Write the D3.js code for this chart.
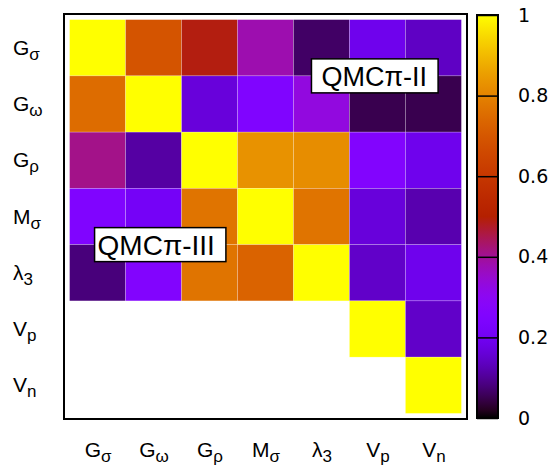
<!DOCTYPE html>
<html>
<head>
<meta charset="utf-8">
<script src="https://cdn.jsdelivr.net/npm/d3@7"></script>
<style>
  body { margin: 0; background: #fff; }
  svg { display: block; }
</style>
</head>
<body>
<div id="chart"></div>
<script>
// parameter names (main letter + subscript)
var labelMain = ["G", "G", "G", "M", "λ", "V", "V"]
var labelSub = ["σ", "ω", "ρ", "σ", "3", "p", "n"]

// correlation matrix, rows top to bottom, null = no cell
var row0 = [1, 0.69, 0.49, 0.38, 0.065, 0.19, 0.14]
var row1 = [0.75, 1, 0.165, 0.25, 0.33, 0.05, 0.05]
var row2 = [0.41, 0.11, 1, 0.83, 0.82, 0.26, 0.19]
var row3 = [0.25, 0.21, 0.77, 1, 0.77, 0.165, 0.12]
var row4 = [0.08, 0.26, 0.77, 0.73, 1, 0.145, 0.19]
var row5 = [null, null, null, null, null, 1, 0.145]
var row6 = [null, null, null, null, null, null, 1]
var rows = [row0, row1, row2, row3, row4, row5, row6]

var cbTicks = [0, 0.2, 0.4, 0.6, 0.8, 1]

var notes = [
  { text: "QMCπ-II", x: 4, y: 0.5, size: 27, padL: 10, padR: 11 },
  { text: "QMCπ-III", x: 0, y: 3.5, size: 28, padL: 3, padR: 11 }
]

var width = 551, height = 471

// gnuplot default palette (rgbformulae 7,5,15)
function pm3d(t) {
  var r = Math.sqrt(t), g = t * t * t, b = Math.max(0, Math.sin(2 * Math.PI * t))
  return d3.rgb(r * 255, g * 255, b * 255).toString()
}
var color = d3.scaleSequential(pm3d).domain([0, 1])

var svg = d3.select("#chart")
  .append("svg")
  .attr("width", width)
  .attr("height", height)

var x = d3.scaleLinear().domain([-0.6, 6.6]).range([64, 467])
var y = d3.scaleLinear().domain([-0.6, 6.6]).range([14, 419])

var cells = []
rows.forEach(function (r, i) {
  r.forEach(function (v, j) {
    if (v !== null) cells.push({ row: i, col: j, value: v })
  })
})

svg.append("g")
  .selectAll("rect")
  .data(cells)
  .enter()
  .append("rect")
  .attr("x", function (d) { return x(d.col - 0.5) })
  .attr("y", function (d) { return y(d.row - 0.5) })
  .attr("width", function (d) { return x(d.col + 0.5) - x(d.col - 0.5) })
  .attr("height", function (d) { return y(d.row + 0.5) - y(d.row - 0.5) })
  .attr("fill", function (d) { return color(d.value) })
  .attr("stroke", "#fff")
  .attr("stroke-opacity", 0.35)
  .attr("stroke-width", 0.6)

// frame
svg.append("rect")
  .attr("x", x(-0.6))
  .attr("y", y(-0.6))
  .attr("width", x(6.6) - x(-0.6))
  .attr("height", y(6.6) - y(-0.6))
  .attr("fill", "none")
  .attr("stroke", "#000")
  .attr("stroke-width", 2)

// tick labels with subscripts
function subLabel(sel, i) {
  sel.text(null)
  sel.append("tspan").text(labelMain[i])
  sel.append("tspan")
    .attr("font-size", 17)
    .attr("dy", 5)
    .text(labelSub[i])
}

var idx = d3.range(7)

var xAxis = svg.append("g")
  .attr("transform", "translate(0,457)")
  .call(d3.axisBottom(x).tickValues(idx).tickSize(0).tickPadding(0).tickFormat(function () { return "" }))
xAxis.select(".domain").remove()
xAxis.selectAll(".tick text")
  .attr("y", 0)
  .attr("dy", 0)
  .attr("fill", "#000")
  .attr("font-family", "Liberation Sans, Arial, sans-serif")
  .attr("font-size", 21)
  .attr("text-anchor", "middle")
  .each(function (d) { subLabel(d3.select(this), d) })

var yAxis = svg.append("g")
  .call(d3.axisLeft(y).tickValues(idx).tickSize(0).tickFormat(function () { return "" }))
yAxis.select(".domain").remove()
yAxis.selectAll(".tick text")
  .attr("x", 13)
  .attr("dy", 6.5)
  .attr("fill", "#000")
  .attr("font-family", "Liberation Sans, Arial, sans-serif")
  .attr("font-size", 21)
  .attr("text-anchor", "start")
  .each(function (d) { subLabel(d3.select(this), d) })

// boxed labels
notes.forEach(function (n) {
  var g = svg.append("g")
  var rect = g.append("rect")
  var t = g.append("text")
    .attr("x", x(n.x))
    .attr("y", y(n.y))
    .attr("dy", 10)
    .attr("font-family", "Liberation Sans, Arial, sans-serif")
    .attr("font-size", n.size)
    .attr("fill", "#000")
    .text(n.text)
  var bb = t.node().getBBox()
  rect.attr("x", bb.x - n.padL)
    .attr("y", y(n.y) - 17)
    .attr("width", bb.width + n.padL + n.padR)
    .attr("height", 34)
    .attr("fill", "#fff")
    .attr("stroke", "#000")
    .attr("stroke-width", 1.5)
})

// colorbar
var cbX = 477, cbW = 21
var cb = d3.scaleLinear().domain([0, 1]).range([418, 15])

var grad = svg.append("defs").append("linearGradient")
  .attr("id", "cbgrad")
  .attr("x1", 0).attr("y1", 1).attr("x2", 0).attr("y2", 0)
grad.selectAll("stop")
  .data(d3.range(0, 1.0001, 0.02))
  .enter()
  .append("stop")
  .attr("offset", function (d) { return d })
  .attr("stop-color", function (d) { return color(d) })

svg.append("rect")
  .attr("x", cbX)
  .attr("y", cb(1))
  .attr("width", cbW)
  .attr("height", cb(0) - cb(1))
  .attr("fill", "url(#cbgrad)")

var cbAxis = svg.append("g")
  .attr("transform", "translate(" + cbX + ",0)")
  .call(d3.axisRight(cb).tickValues(cbTicks).tickSize(cbW).tickPadding(20)
    .tickFormat(function (d) { return d3.format("~g")(d) }))
cbAxis.select(".domain").remove()
cbAxis.selectAll(".tick line").attr("stroke", "#000").attr("stroke-width", 1.5)
cbAxis.selectAll(".tick text")
  .attr("fill", "#000")
  .attr("font-family", "DejaVu Sans, sans-serif")
  .attr("font-size", 19)

svg.append("rect")
  .attr("x", cbX)
  .attr("y", cb(1))
  .attr("width", cbW)
  .attr("height", cb(0) - cb(1))
  .attr("fill", "none")
  .attr("stroke", "#000")
  .attr("stroke-width", 2)
</script>
</body>
</html>
